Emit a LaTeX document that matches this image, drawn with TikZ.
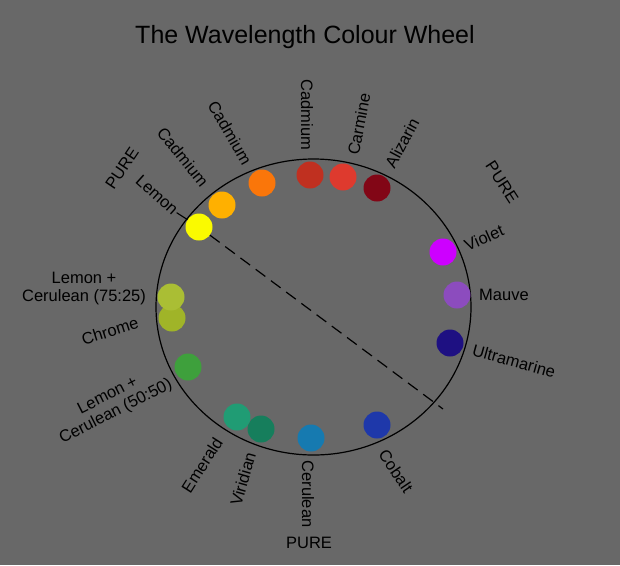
\documentclass[tikz,border=0pt]{standalone}
\usepackage{fontspec}
\setmainfont{Liberation Sans}
\usepackage{tikz}
\usetikzlibrary{positioning}
\definecolor{wheelbg}{RGB}{104,104,104}
\definecolor{lemonyel}{RGB}{250,250,0}
\definecolor{cadyel}{RGB}{255,176,0}
\definecolor{cadorange}{RGB}{250,118,10}
\definecolor{cadred}{RGB}{192,48,32}
\definecolor{carmine}{RGB}{222,58,46}
\definecolor{alizarin}{RGB}{130,6,22}
\definecolor{violet}{RGB}{205,0,255}
\definecolor{mauve}{RGB}{140,76,190}
\definecolor{ultramarine}{RGB}{30,16,130}
\definecolor{cobalt}{RGB}{30,56,170}
\definecolor{cerulean}{RGB}{22,122,176}
\definecolor{viridian}{RGB}{22,126,92}
\definecolor{emerald}{RGB}{32,156,116}
\definecolor{mixhalf}{RGB}{62,160,60}
\definecolor{chrome}{RGB}{160,180,40}
\definecolor{mixquarter}{RGB}{170,190,52}

\begin{document}
\begin{tikzpicture}[
  x=1pt, y=-1pt,
  paint/.style={circle, inner sep=0pt, minimum size=27pt},
  lbl/.style={font=\fontsize{16.5}{18}\selectfont, inner sep=1pt},
  heading/.style={font=\fontsize{25}{28}\selectfont},
  rim/.style={line width=1.2pt},
  guide/.style={line width=1.2pt, dash pattern=on 12pt off 7pt}
]
\fill[wheelbg] (0,0) rectangle (620,565);
\useasboundingbox (0,0) rectangle (620,565);

\node[heading] (title) at (305,37) {The Wavelength Colour Wheel};

% the wheel
\coordinate (hub) at (313.5,307);
\draw[rim] (hub) ellipse [x radius=157.5pt, y radius=148pt];

% paints round the wheel
\node[paint, fill=lemonyel] (lemon) at (199,227) {};
\node[paint, fill=cadyel] (cadyellow) at (222,205) {};
\node[paint, fill=cadorange] (cadorange) at (262,183) {};
\node[paint, fill=cadred] (cadred) at (310,175) {};
\node[paint, fill=carmine] (carmine) at (343,177) {};
\node[paint, fill=alizarin] (alizarin) at (377,188) {};
\node[paint, fill=violet] (violet) at (443,252) {};
\node[paint, fill=mauve] (mauve) at (457,295) {};
\node[paint, fill=ultramarine] (ultra) at (450,343) {};
\node[paint, fill=cobalt] (cobalt) at (377,425) {};
\node[paint, fill=cerulean] (cerulean) at (311,438) {};
\node[paint, fill=viridian] (viridian) at (261,429) {};
\node[paint, fill=emerald] (emerald) at (237,417) {};
\node[paint, fill=mixhalf] (mixhalf) at (188,367) {};
\node[paint, fill=chrome] (chrome) at (172,318) {};
\node[paint, fill=mixquarter] (mixquarter) at (171,297) {};

% labels
\node[lbl, rotate=56] (pureleft) at (122,168) {PURE};
\node[lbl, rotate=-42] (lemonlbl) at (157,195) {Lemon};
\node[lbl, rotate=-51] (cadyellowlbl) at (183,157) {Cadmium};
\node[lbl, rotate=-60] (cadorangelbl) at (230,133) {Cadmium};
\node[lbl, rotate=-90] (cadredlbl) at (307,115) {Cadmium};
\node[lbl, rotate=79] (carminelbl) at (359,124) {Carmine};
\node[lbl, rotate=62] (alizarinlbl) at (402,143) {Alizarin};
\node[lbl, rotate=-57] (pureright) at (502,182) {PURE};
\node[lbl, rotate=24] (violetlbl) at (484,238) {Violet};
\node[lbl] (mauvelbl) at (504,295) {Mauve};
\node[lbl, rotate=-15.5] (ultralbl) at (514,361) {Ultramarine};
\node[lbl, rotate=-56] (cobaltlbl) at (396,471) {Cobalt};
\node[lbl, rotate=-90] (ceruleanlbl) at (308,494) {Cerulean};
\node[lbl] (purebottom) at (309,543) {PURE};
\node[lbl, rotate=74] (viridianlbl) at (243,479) {Viridian};
\node[lbl, rotate=57.5] (emeraldlbl) at (202,465) {Emerald};
\node[lbl, rotate=27, align=center] (mixhalflbl) at (112,404) {Lemon +\\Cerulean (50:50)};
\node[lbl, rotate=17.6] (chromelbl) at (110,331) {Chrome};
\node[lbl, align=center] (mixquarterlbl) at (84,289) {Lemon +\\Cerulean (75:25)};

% lemon leader and the diameter across
\coordinate (farend) at (443,409);
\draw[line width=1.1pt] (lemonlbl.east) -- (lemon);
\draw[guide] (lemon) -- (farend);
\end{tikzpicture}
\end{document}
